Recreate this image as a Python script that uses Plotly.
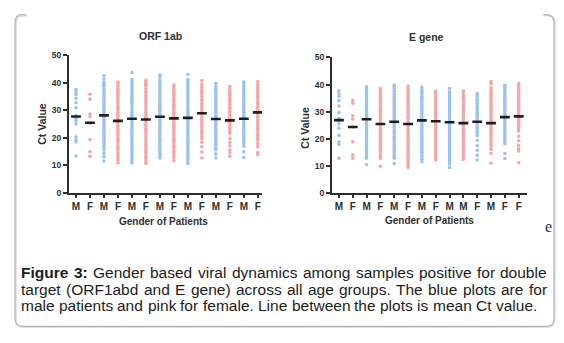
import plotly.graph_objects as go

# ---------------- data (Ct values) ----------------
orf_labels = ["M", "F", "M", "F", "M", "F", "M", "F", "M", "F", "M", "F", "M", "F"]
e_labels = ["M", "F", "M", "F", "M", "F", "M", "F", "M", "M", "F", "M", "F", "F"]
y_ticks = [0, 10, 20, 30, 40, 50]

orf_c1 = [13.4, 18.6, 19.3, 20.4, 25.1, 26.3, 27.2, 28.1, 31.0, 32.8, 34.4, 35.8, 36.7, 37.6]
orf_c2 = [13.3, 15.0, 19.4, 25.4, 27.7, 28.7, 34.1, 35.9]
orf_c3 = [11.6, 13.1, 14.4, 15.6, 16.3, 17.2, 18.0, 18.7, 19.5, 20.4, 21.1, 21.9, 22.8, 23.5, 24.3, 25.2, 26.0, 26.7, 27.5, 28.4, 29.1, 29.9, 30.8, 31.5, 32.3, 33.2, 34.0, 34.7, 35.5, 36.4, 37.1, 37.9, 38.8, 39.5, 40.3, 41.4, 42.6]
orf_c4 = [10.9, 11.8, 12.6, 13.5, 14.2, 15.0, 15.9, 16.6, 17.4, 18.3, 19.0, 19.8, 20.7, 21.4, 22.2, 23.1, 23.8, 24.6, 25.5, 26.2, 27.0, 27.9, 28.6, 29.4, 30.3, 31.0, 31.8, 32.7, 33.4, 34.2, 35.1, 35.8, 36.6, 37.5, 38.2, 39.0, 39.7, 40.3]
orf_c5 = [10.9, 11.7, 12.5, 13.4, 14.1, 14.9, 15.8, 16.5, 17.3, 18.2, 18.9, 19.7, 20.6, 21.3, 22.1, 23.0, 23.7, 24.5, 25.4, 26.1, 26.9, 27.8, 28.5, 29.3, 30.2, 30.9, 31.7, 32.6, 33.3, 34.1, 35.0, 35.7, 36.5, 37.4, 38.1, 38.9, 39.8, 40.5, 41.2, 43.8]
orf_c6 = [10.7, 11.5, 12.4, 13.1, 13.9, 14.8, 15.5, 16.3, 17.2, 17.9, 18.7, 19.6, 20.3, 21.1, 22.0, 22.7, 23.5, 24.4, 25.1, 25.9, 26.8, 27.5, 28.3, 29.2, 29.9, 30.7, 31.6, 32.3, 33.1, 34.0, 34.7, 35.5, 36.4, 37.1, 37.9, 38.8, 39.5, 40.2, 41.0]
orf_c7 = [12.7, 13.6, 14.3, 15.1, 16.0, 16.7, 17.5, 18.4, 19.1, 19.9, 20.8, 21.5, 22.3, 23.2, 23.9, 24.7, 25.6, 26.3, 27.1, 28.0, 28.7, 29.5, 30.4, 31.1, 31.9, 32.8, 33.5, 34.3, 35.2, 35.9, 36.7, 37.6, 38.3, 39.1, 40.0, 40.8, 42.0, 42.9]
orf_c8 = [11.8, 13.0, 13.9, 14.6, 15.4, 16.3, 17.0, 17.8, 18.7, 19.4, 20.2, 21.1, 21.8, 22.6, 23.5, 24.2, 25.0, 25.9, 26.6, 27.4, 28.3, 29.0, 29.8, 30.7, 31.4, 32.2, 33.1, 33.8, 34.6, 35.5, 36.2, 37.0, 37.9, 38.6, 39.3]
orf_c9 = [10.7, 11.6, 12.4, 13.2, 14.0, 14.8, 15.7, 16.4, 17.2, 18.1, 18.8, 19.6, 20.5, 21.2, 22.0, 22.9, 23.6, 24.4, 25.3, 26.0, 26.8, 27.7, 28.4, 29.2, 30.1, 30.8, 31.6, 32.5, 33.2, 34.0, 34.9, 35.6, 36.4, 37.3, 38.0, 38.8, 39.7, 40.4, 41.2, 43.1]
orf_c10 = [12.7, 14.9, 16.8, 18.4, 19.6, 20.5, 21.4, 22.1, 22.9, 23.8, 24.5, 25.3, 26.2, 26.9, 27.7, 28.6, 29.3, 30.1, 31.0, 31.7, 32.5, 33.4, 34.1, 34.9, 35.8, 36.5, 37.3, 38.2, 38.9, 39.7, 40.9]
orf_c11 = [12.7, 14.2, 15.6, 16.4, 17.3, 18.0, 18.8, 19.7, 20.4, 21.2, 22.1, 22.8, 23.6, 24.5, 25.2, 26.0, 26.9, 27.6, 28.4, 29.3, 30.0, 30.8, 31.7, 32.4, 33.2, 34.1, 34.8, 35.6, 36.5, 37.2, 38.0, 38.9, 39.9]
orf_c12 = [13.3, 14.6, 15.6, 17.1, 18.4, 19.8, 21.6, 22.4, 23.3, 24.0, 24.8, 25.7, 26.4, 27.2, 28.1, 28.8, 29.6, 30.5, 31.2, 32.0, 32.9, 33.6, 34.4, 35.3, 36.0, 36.8, 37.7, 38.7]
orf_c13 = [12.9, 15.0, 17.0, 18.0, 18.8, 19.7, 20.4, 21.2, 22.1, 22.8, 23.6, 24.5, 25.2, 26.0, 26.9, 27.6, 28.4, 29.3, 30.0, 30.8, 31.7, 32.4, 33.2, 34.1, 34.8, 35.6, 36.5, 37.2, 38.0, 38.9, 39.6, 40.3]
orf_c14 = [13.9, 14.7, 16.8, 18.0, 19.2, 20.1, 21.0, 21.8, 22.7, 23.4, 24.2, 25.1, 25.8, 26.6, 27.5, 28.2, 29.0, 29.9, 30.6, 31.4, 32.3, 33.0, 33.8, 34.7, 35.4, 36.2, 37.1, 37.8, 38.6, 39.5, 40.5]
orf_means = [27.8, 25.5, 28.2, 26.2, 27.0, 26.7, 27.7, 27.1, 27.3, 29.0, 26.9, 26.4, 27.0, 29.3]

e_c1 = [12.9, 18.0, 18.9, 21.3, 23.9, 25.5, 26.6, 27.6, 29.7, 32.1, 34.1, 35.6, 36.7, 37.7]
e_c2 = [12.9, 14.1, 18.9, 24.4, 27.3, 28.5, 33.1, 34.1]
e_c3 = [10.5, 12.9, 13.6, 14.4, 15.3, 16.0, 16.8, 17.7, 18.4, 19.2, 20.1, 20.8, 21.6, 22.5, 23.2, 24.0, 24.9, 25.6, 26.4, 27.3, 28.0, 28.8, 29.7, 30.4, 31.2, 32.1, 32.8, 33.6, 34.5, 35.2, 36.0, 36.9, 37.6, 38.4, 39.2]
e_c4 = [9.9, 12.9, 13.7, 14.5, 15.4, 16.1, 16.9, 17.8, 18.5, 19.3, 20.2, 20.9, 21.7, 22.6, 23.3, 24.1, 25.0, 25.7, 26.5, 27.4, 28.1, 28.9, 29.8, 30.5, 31.3, 32.2, 32.9, 33.7, 34.6, 35.3, 36.1, 37.0, 37.7, 38.6]
e_c5 = [10.9, 12.9, 13.7, 14.6, 15.3, 16.1, 17.0, 17.7, 18.5, 19.4, 20.1, 20.9, 21.8, 22.5, 23.3, 24.2, 24.9, 25.7, 26.6, 27.3, 28.1, 29.0, 29.7, 30.5, 31.4, 32.1, 32.9, 33.8, 34.5, 35.3, 36.2, 36.9, 37.7, 38.6, 39.2, 39.8]
e_c6 = [9.5, 10.4, 11.2, 12.0, 12.9, 13.6, 14.4, 15.3, 16.0, 16.8, 17.7, 18.4, 19.2, 20.1, 20.8, 21.6, 22.5, 23.2, 24.0, 24.9, 25.6, 26.4, 27.3, 28.0, 28.8, 29.7, 30.4, 31.2, 32.1, 32.8, 33.6, 34.5, 35.2, 36.0, 36.9, 37.6, 38.5, 39.4]
e_c7 = [11.6, 12.5, 13.3, 14.1, 15.0, 15.7, 16.5, 17.4, 18.1, 18.9, 19.8, 20.5, 21.3, 22.2, 22.9, 23.7, 24.6, 25.3, 26.1, 27.0, 27.7, 28.5, 29.4, 30.1, 30.9, 31.8, 32.5, 33.3, 34.2, 34.9, 35.7, 36.6, 37.3, 38.2, 39.1]
e_c8 = [12.2, 13.0, 13.8, 14.7, 15.4, 16.2, 17.1, 17.8, 18.6, 19.5, 20.2, 21.0, 21.9, 22.6, 23.4, 24.3, 25.0, 25.8, 26.7, 27.4, 28.2, 29.1, 29.8, 30.6, 31.5, 32.2, 33.0, 33.9, 34.6, 35.4, 36.3, 37.0, 37.6]
e_c9 = [9.5, 10.8, 11.7, 12.5, 13.3, 14.2, 14.9, 15.7, 16.6, 17.3, 18.1, 19.0, 19.7, 20.5, 21.4, 22.1, 22.9, 23.8, 24.5, 25.3, 26.2, 26.9, 27.7, 28.6, 29.3, 30.1, 31.0, 31.7, 32.5, 33.4, 34.1, 34.9, 35.8, 36.5, 37.3, 38.5]
e_c10 = [12.4, 13.3, 14.1, 15.0, 15.7, 16.5, 17.4, 18.1, 18.9, 19.8, 20.5, 21.3, 22.2, 22.9, 23.7, 24.6, 25.3, 26.1, 27.0, 27.7, 28.5, 29.4, 30.1, 30.9, 31.8, 32.5, 33.3, 34.2, 34.9, 35.7, 36.6, 37.6]
e_c11 = [12.2, 14.0, 15.8, 17.5, 19.4, 21.2, 22.4, 23.3, 24.1, 24.9, 25.8, 26.5, 27.3, 28.2, 28.9, 29.7, 30.6, 31.3, 32.1, 33.0, 33.7, 34.5, 35.4, 36.0, 36.7]
e_c12 = [11.0, 14.6, 16.1, 17.2, 18.0, 18.9, 19.6, 20.4, 21.3, 22.0, 22.8, 23.7, 24.4, 25.2, 26.1, 26.8, 27.6, 28.5, 29.2, 30.0, 30.9, 31.6, 32.4, 33.3, 34.0, 34.8, 35.7, 36.4, 37.2, 38.0, 38.8, 40.3, 41.1]
e_c13 = [12.8, 14.6, 18.2, 19.0, 19.8, 20.7, 21.4, 22.2, 23.1, 23.8, 24.6, 25.5, 26.2, 27.0, 27.9, 28.6, 29.4, 30.3, 31.0, 31.8, 32.7, 33.4, 34.2, 35.1, 35.8, 36.6, 37.5, 38.2, 39.0, 39.7]
e_c14 = [11.2, 15.5, 16.3, 17.5, 19.3, 21.0, 22.9, 23.6, 24.4, 25.3, 26.0, 26.8, 27.7, 28.4, 29.2, 30.1, 30.8, 31.6, 32.5, 33.2, 34.0, 34.9, 35.6, 36.4, 37.3, 38.0, 38.8, 39.7, 40.4]
e_means = [26.9, 24.4, 27.2, 25.5, 26.3, 25.5, 26.8, 26.5, 26.1, 25.8, 26.3, 25.8, 28.0, 28.3]

orf_cols = [orf_c1, orf_c2, orf_c3, orf_c4, orf_c5, orf_c6, orf_c7,
            orf_c8, orf_c9, orf_c10, orf_c11, orf_c12, orf_c13, orf_c14]
e_cols = [e_c1, e_c2, e_c3, e_c4, e_c5, e_c6, e_c7,
          e_c8, e_c9, e_c10, e_c11, e_c12, e_c13, e_c14]

caption_lines = [
    "<b>Figure</b> <b>3:</b> Gender based viral dynamics among samples positive for double",
    "target (ORF1abd and E gene) across all age groups. The blue plots are for",
    "male patients and pink for female. Line between the plots is mean Ct value.",
]

# ---------------- styling ----------------
W, H = 564, 343
BLUE = "#9cc3ee"
PINK = "#f4a7a9"
AX = "#2e2e2e"
TXT = "#2f2f2f"
FONT = "Liberation Sans, Arial, sans-serif"


def px(x):
    return x / W


def py(y):
    return 1 - y / H


fig = go.Figure()


def add_panel(cols, means, xa, ya):
    for i, vals in enumerate(cols):
        fig.add_trace(go.Scatter(
            x=[i] * len(vals), y=vals, mode="markers", xaxis=xa, yaxis=ya,
            marker=dict(size=3.6, color=BLUE if i % 2 == 0 else PINK, line=dict(width=0)),
            showlegend=False, hoverinfo="y"))
    fig.add_trace(go.Scatter(
        x=list(range(len(means))), y=means, mode="markers", xaxis=xa, yaxis=ya,
        marker=dict(symbol="line-ew", size=7, color="#1e1e1e",
                    line=dict(width=2.6, color="#1e1e1e")),
        showlegend=False, hoverinfo="y"))


add_panel(orf_cols, orf_means, "x", "y")
add_panel(e_cols, e_means, "x2", "y2")


def bold(items):
    return [f"<b>{t}</b>" for t in items]


xcommon = dict(showgrid=False, zeroline=False, showline=True, linecolor=AX, linewidth=2,
               ticks="outside", ticklen=3, tickwidth=1.6, tickcolor=AX,
               tickfont=dict(family=FONT, size=10, color=TXT),
               tickvals=list(range(14)))
ycommon = dict(showgrid=False, zeroline=False, showline=True, linecolor=AX, linewidth=2,
               ticks="outside", ticklen=4, tickwidth=1.6, tickcolor=AX,
               tickfont=dict(family=FONT, size=8.5, color=TXT),
               tickvals=y_ticks, ticktext=bold(y_ticks), range=[0, 50.3])

fig.update_layout(
    width=W, height=H, margin=dict(l=0, r=0, t=0, b=0),
    paper_bgcolor="white", plot_bgcolor="white",
    xaxis=dict(**xcommon, domain=[px(69), px(262)], range=[-0.5, 13.3],
               ticktext=bold(orf_labels), anchor="y"),
    yaxis=dict(**ycommon, domain=[py(194), py(52)], anchor="x"),
    xaxis2=dict(**xcommon, domain=[px(332), px(527)], range=[-0.5, 13.6],
                ticktext=bold(e_labels), anchor="y2"),
    yaxis2=dict(**ycommon, domain=[py(194.3), py(54)], anchor="x2"),
)

ann = []


def label(text, x, y, size=10, angle=0, color=TXT, family=FONT, xanchor="center"):
    ann.append(dict(text=text, x=px(x), y=py(y), xref="paper", yref="paper",
                    showarrow=False, xanchor=xanchor, yanchor="middle", textangle=angle,
                    font=dict(family=family, size=size, color=color)))


label("<b>ORF 1ab</b>", 160, 33, size=10.5)
label("<b>E gene</b>", 426, 34, size=10.5)
label("<b>Gender of Patients</b>", 163, 223, size=10)
label("<b>Gender of Patients</b>", 429, 222, size=10)
label("<b>Ct Value</b>", 42, 123, size=10.5, angle=-90)
label("<b>Ct Value</b>", 305, 127, size=10.5, angle=-90)
label("e", 548, 229, size=16, color="#1d2f55", family="Liberation Serif, serif")

# ---------------- caption (justified with Arial metrics) ----------------
REG = {" ": 278, "a": 556, "b": 556, "c": 500, "d": 556, "e": 556, "f": 278, "g": 556, "h": 556,
       "i": 222, "j": 222, "k": 500, "l": 222, "m": 833, "n": 556, "o": 556, "p": 556, "q": 556,
       "r": 333, "s": 500, "t": 278, "u": 556, "v": 500, "w": 722, "x": 500, "y": 500, "z": 500,
       ".": 278, ",": 278, ":": 278, "(": 333, ")": 333, "0": 556, "1": 556, "2": 556, "3": 556,
       "A": 667, "B": 667, "C": 722, "D": 722, "E": 667, "F": 611, "G": 778, "H": 722, "I": 278,
       "L": 556, "M": 833, "N": 722, "O": 778, "P": 667, "R": 722, "S": 667, "T": 611, "V": 667}
BOLD = {"F": 611, "i": 278, "g": 611, "u": 611, "r": 389, "e": 556, "3": 556, ":": 333, " ": 278}

CAP_SIZE = 15.5
CAP_LEFT, CAP_RIGHT = 20, 546
cap_y = [276, 293, 310]


def word_width(w):
    is_bold = w.startswith("<b>")
    raw = w.replace("<b>", "").replace("</b>", "")
    table = BOLD if is_bold else REG
    return sum(table.get(ch, 556) for ch in raw) * CAP_SIZE / 1000


for li, line in enumerate(caption_lines):
    words = line.split(" ")
    widths = [word_width(w) for w in words]
    if li < len(caption_lines) - 1:
        gap = (CAP_RIGHT - CAP_LEFT - sum(widths)) / (len(words) - 1)
    else:
        gap = REG[" "] * CAP_SIZE / 1000
    xcur = CAP_LEFT
    for w, wd in zip(words, widths):
        ann.append(dict(text=w, x=px(xcur - 1), y=py(cap_y[li]), xref="paper", yref="paper",
                        showarrow=False, xanchor="left", yanchor="middle",
                        font=dict(family=FONT, size=CAP_SIZE, color="#1c1c1c")))
        xcur += wd + gap

fig.update_layout(annotations=ann)


# ---------------- rounded frame ----------------
def frame_path(dx=0.0, dy=0.0):
    L, R, T, B, r = 15 + dx, 554 + dx, 11 + dy, 331 + dy, 8
    pts = [("M", L + r + 3, T), ("L", L + r, T), ("Q", L, T, L, T + r), ("L", L, B - r),
           ("Q", L, B, L + r, B), ("L", R - r, B), ("Q", R, B, R, B - r), ("L", R, T + r),
           ("Q", R, T, R - r, T), ("L", R - r - 3, T)]
    out = []
    for p in pts:
        cmd = p[0]
        coords = p[1:]
        s = cmd + " " + " ".join(
            f"{px(coords[k]):.5f},{py(coords[k + 1]):.5f}" for k in range(0, len(coords), 2))
        out.append(s)
    return " ".join(out)


fig.add_shape(type="path", path=frame_path(1, 1), xref="paper", yref="paper",
              line=dict(color="#dcdcdc", width=1.5), layer="below")
fig.add_shape(type="path", path=frame_path(), xref="paper", yref="paper",
              line=dict(color="#b4b4b4", width=1.2), layer="below")

fig.write_html("out.html", config={"displayModeBar": False},
               post_script="document.body.style.margin='0';document.body.style.overflow='hidden';")
